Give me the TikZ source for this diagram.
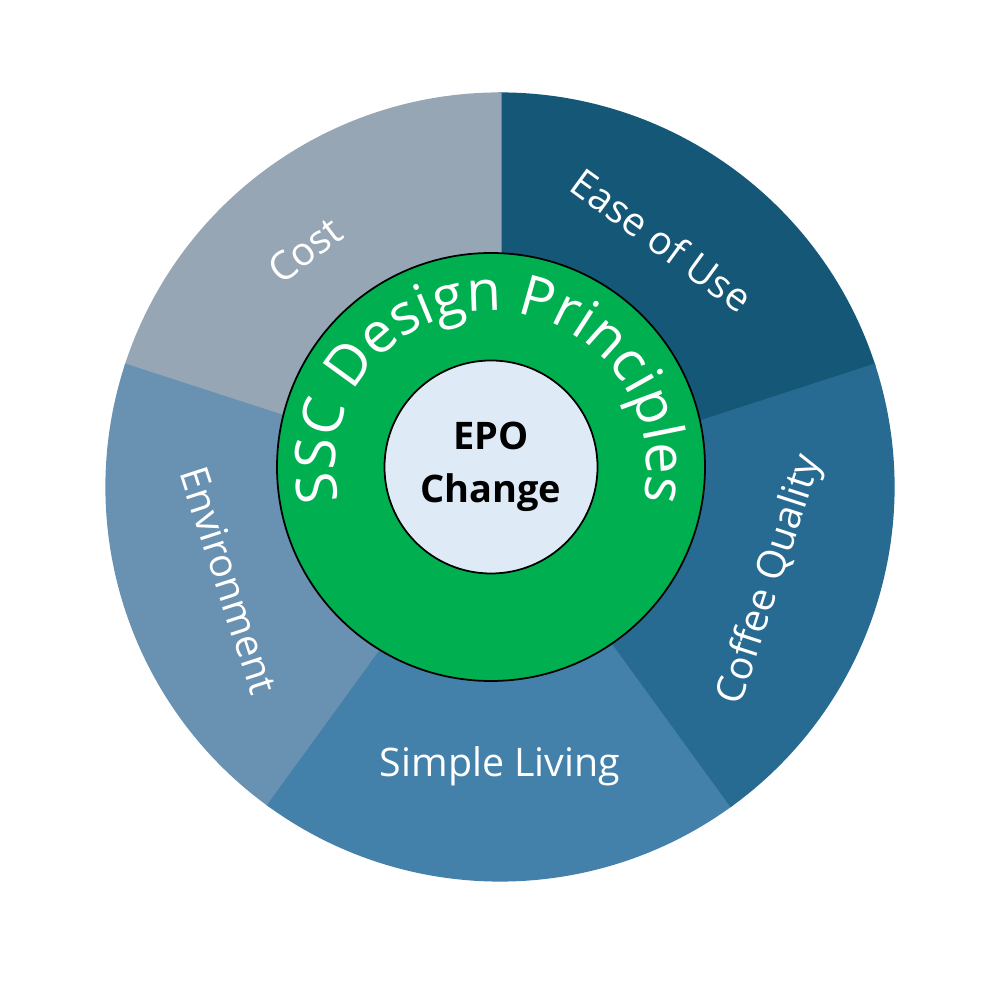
\documentclass[tikz,border=0pt]{standalone}
\usepackage{fontspec}
\setmainfont{Open Sans}
\usetikzlibrary{decorations.text}
\usetikzlibrary{positioning}

\definecolor{costgray}{HTML}{96A6B5}
\definecolor{easeblue}{HTML}{145777}
\definecolor{coffeeblue}{HTML}{276B92}
\definecolor{simpleblue}{HTML}{4381AB}
\definecolor{envblue}{HTML}{6991B2}
\definecolor{sscgreen}{HTML}{00B050}
\definecolor{epoblue}{HTML}{DEEBF7}

\begin{document}
\begin{tikzpicture}[
            sector/.style = {draw=white,line width=0.9pt},
            seglabel/.style = {text=white,font=\fontsize{11.2}{13}\selectfont,
                inner sep=0pt},
            ring/.style = {circle,draw=black,line width=0.5pt},
            hub/.style = {ring,fill=epoblue,align=center,
                font=\fontsize{10.8}{17}\selectfont\bfseries}]
            \useasboundingbox (-5,-5.13) rectangle (5,4.87);
            % outer sectors
            \coordinate (pie) at (0,0);
            \fill[sector,easeblue] (pie) -- (18:3.93) arc[start angle=18,end angle=90,radius=3.93] -- cycle;
            \fill[sector,costgray] (pie) -- (90:3.93) arc[start angle=90,end angle=162,radius=3.93] -- cycle;
            \fill[sector,envblue] (pie) -- (162:3.93) arc[start angle=162,end angle=234,radius=3.93] -- cycle;
            \fill[sector,simpleblue] (pie) -- (234:3.93) arc[start angle=234,end angle=306,radius=3.93] -- cycle;
            \fill[sector,coffeeblue] (pie) -- (306:3.93) arc[start angle=306,end angle=378,radius=3.93] -- cycle;
            \node[seglabel,rotate=-36] (ease) at (1.62,2.47) {Ease of Use};
            \node[seglabel,rotate=37] (cost) at (-1.95,2.37) {Cost};
            \node[seglabel,rotate=-72] (env) at (-2.71,-0.93) {Environment};
            \node[seglabel] (simple) at (0,-2.79) {Simple Living};
            \node[seglabel,rotate=72] (coffee) at (2.71,-0.93) {Coffee Quality};
            % green ring and centre
            \node[ring,fill=sscgreen,minimum size=4.28cm] (ssc) at (-0.09,0.20) {};
            \node[hub,minimum size=2.13cm] (epo) at (ssc.center) {EPO\\[-2pt]Change};
            \path[decorate,decoration={text along path,text align=center,
                text color=white,
                text={|\fontsize{16}{19}\selectfont|SSC Design Principles}}]
                ([shift={(195:1.56)}]ssc.center) arc[start angle=195,end angle=-15,radius=1.56];
        \end{tikzpicture}
\end{document}
